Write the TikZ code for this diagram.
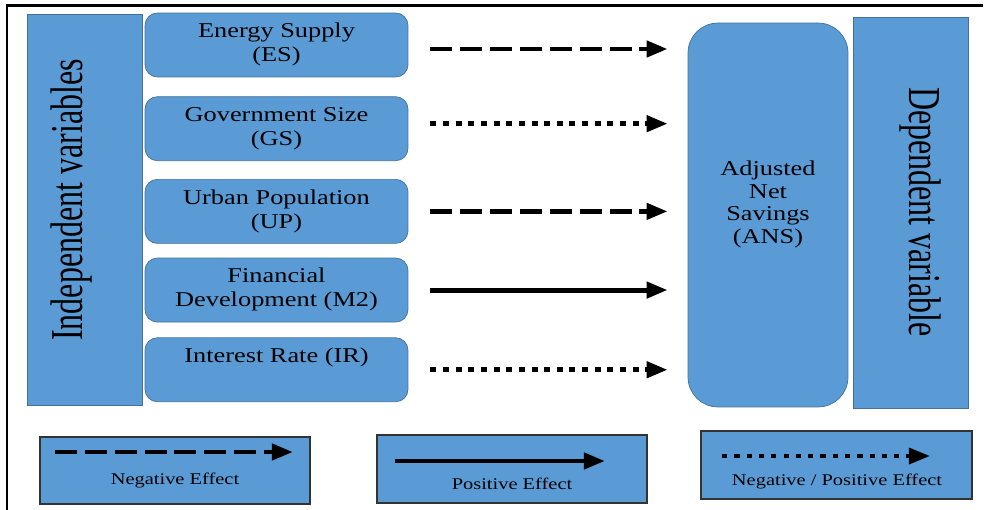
\documentclass[tikz,border=0pt]{standalone}
\usepackage{fontspec}
\setmainfont{Liberation Serif}
\usetikzlibrary{positioning, arrows.meta}

\definecolor{boxblue}{HTML}{5B9BD5}
\definecolor{boxline}{HTML}{41719C}

% stretched serif text, as in the original drawing
\newcommand{\wide}[1]{\scalebox{1.25}[1]{\begin{tabular}{@{}c@{}}#1\end{tabular}}}
\newcommand{\slim}[1]{\scalebox{0.7}[1]{#1}}

\begin{document}
\begin{tikzpicture}[x=0.02cm, y=-0.02cm, node distance=0.36cm,
        box/.style={draw=boxline, fill=boxblue, rounded corners=7pt, inner sep=0pt,
                minimum width=5.26cm, minimum height=1.28cm, font=\fontsize{12}{13.6}\selectfont},
        side/.style={draw=boxline, fill=boxblue, inner sep=0pt},
        key/.style={draw=black!80, fill=boxblue, line width=0.8pt, inner sep=0pt,
                minimum width=5.4cm, minimum height=1.36cm},
        keytext/.style={font=\fontsize{9.3}{11}\selectfont},
        big/.style={font=\fontsize{26}{28}\selectfont},
        tip/.style={-{Triangle[length=12pt,width=9pt]}, line width=2.8pt},
        negline/.style={tip, dash pattern=on 12.5pt off 4.5pt},
        posline/.style={tip},
        mixline/.style={tip, dash pattern=on 3.4pt off 3.8pt},
        link/.style={shorten <=0.44cm, shorten >=0.4cm}]
        \useasboundingbox (0,0) rectangle (993,510);

        % frame
        \draw[line width=1.4pt] (983,5.5) -- (7,5.5) -- (7,510);

        % independent side
        \node[side, minimum width=2.3cm, minimum height=7.82cm] (indep) at (84.5,209.5) {};
        \node[big, rotate=90] (indeplbl) at (72,200) {\slim{Independent variables}};

        \node[box] (es) at (276.5,45) {\wide{Energy Supply\\(ES)}};
        \node[box] (gs) [below=0.38cm of es] {\wide{Government Size\\(GS)}};
        \node[box] (up) [below=of gs] {\wide{Urban Population\\(UP)}};
        \node[box] (m2) [below=0.28cm of up] {\wide{Financial\\Development (M2)}};
        \node[box] (ir) [below=0.3cm of m2] {\wide{Interest Rate (IR)\\~}};

        % dependent side
        \node[side, rounded corners=17pt, minimum width=3.2cm, minimum height=7.68cm] (ans) at (768,215) {};
        \node[font=\fontsize{12}{13}\selectfont] (anslbl) at (768,205) {\wide{Adjusted\\Net\\Savings\\(ANS)}};
        \node[side, minimum width=2.3cm, minimum height=7.82cm] (dep) at (910.5,212.5) {};
        \node[big, rotate=-90] (deplbl) at (920,212) {\slim{Dependent variable}};

        \draw[negline, link] ([yshift=-0.08cm]es.east) -- ([yshift=-0.08cm]es.east -| ans.west);
        \draw[mixline, link] ([yshift=0.1cm]gs.east) -- ([yshift=0.1cm]gs.east -| ans.west);
        \draw[negline, link] (up.east) -- (up.east -| ans.west);
        \draw[posline, link] (m2.east) -- (m2.east -| ans.west);
        \draw[mixline, link] (ir.east) -- (ir.east -| ans.west);

        % legend
        \node[key, minimum height=1.34cm] (legneg) at (175,470.5) {};
        \node[key] (legpos) at (512,469) {};
        \node[key, minimum width=5.42cm] (legmix) at (836.5,465) {};

        \node[keytext] (negtxt) at (175,481) {\wide{Negative Effect}};
        \node[keytext] (postxt) at (512,486) {\wide{Positive Effect}};
        \node[keytext] (mixtxt) at (837,482) {\wide{Negative / Positive Effect}};

        \coordinate (nega) at (55,452);
        \coordinate (negb) at (293,452);
        \coordinate (posa) at (395,461);
        \coordinate (posb) at (605,461);
        \coordinate (mixa) at (722,456);
        \coordinate (mixb) at (930,456);
        \draw[negline] (nega) -- (negb);
        \draw[posline] (posa) -- (posb);
        \draw[mixline, line width=2.3pt, dash pattern=on 3pt off 4pt] (mixa) -- (mixb);
\end{tikzpicture}
\end{document}
